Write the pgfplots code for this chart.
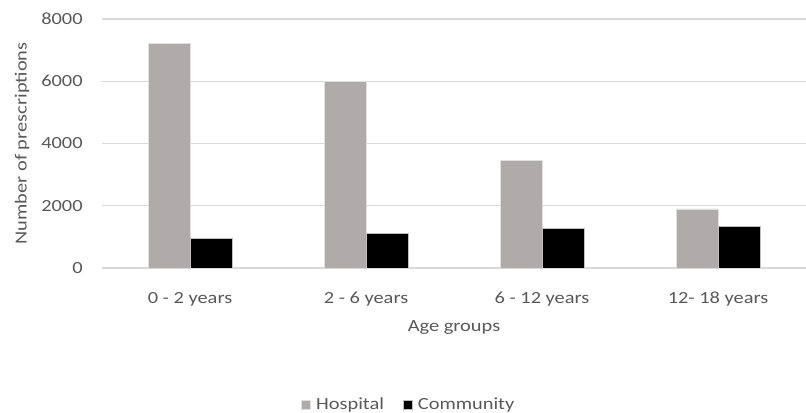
\documentclass[border=0pt]{standalone}
\usepackage{pgfplots}
\pgfplotsset{compat=1.18}
\usepackage{fontspec}
\setmainfont{Carlito}[FakeStretch=1.2]
\definecolor{hosp}{HTML}{AEABAA}
\definecolor{txt}{HTML}{595959}
\definecolor{gridc}{HTML}{D9D9D9}
\newcommand{\chartfont}{\fontsize{12.75}{15}\selectfont}
\begin{document}
\begin{tikzpicture}
\begin{axis}[
    at={(76.5pt,108.75pt)}, anchor=south west,
    scale only axis,
    width=528pt, height=186.75pt,
    ybar=0pt, bar width=31.5pt,
    xmin=-0.5, xmax=3.5,
    ymin=0, ymax=8000,
    xtick=data,
    xticklabels={0 - 2 years, 2 - 6 years, 6 - 12 years, 12- 18 years},
    ytick={0,2000,4000,6000,8000},
    ymajorgrids=true,
    grid style={gridc, line width=0.9pt},
    axis line style={draw=none},
    major tick length=0pt,
    /pgf/number format/assume math mode=true,
    /pgf/number format/set thousands separator={},
    tick label style={font=\chartfont, text=txt},
    yticklabel style={xshift=-11pt},
    xticklabel style={yshift=-14.5pt},
    xlabel={Age groups},
    ylabel={Number of prescriptions},
    xlabel style={at={(axis description cs:0.5,-0.24)}, anchor=center, font=\chartfont, text=txt},
    ylabel style={at={(axis description cs:-0.1136,0.5)}, anchor=center, font=\chartfont, text=txt},
    legend style={at={(axis description cs:0.436,0)}, anchor=center, yshift=-102.5pt,
        draw=none, fill=none, legend columns=2,
        font=\chartfont, text=txt,
        /tikz/every odd column/.append style={column sep=2pt},
        /tikz/every even column/.append style={column sep=12pt}},
    legend image code/.code={\fill[#1] (0pt,-3.5pt) rectangle (7pt,3.5pt);},
]
\addplot[fill=hosp, draw=white!88!black, line width=0.4pt] coordinates {(0,7224) (1,5990) (2,3462) (3,1897)};
\addplot[fill=black, draw=white!75!black, line width=0.4pt] coordinates {(0,943) (1,1115) (2,1275) (3,1329)};
\legend{Hospital, Community}
\end{axis}
\pgfresetboundingbox
\path[use as bounding box] (0,0) rectangle (604.5pt,309.75pt);
\end{tikzpicture}
\end{document}
